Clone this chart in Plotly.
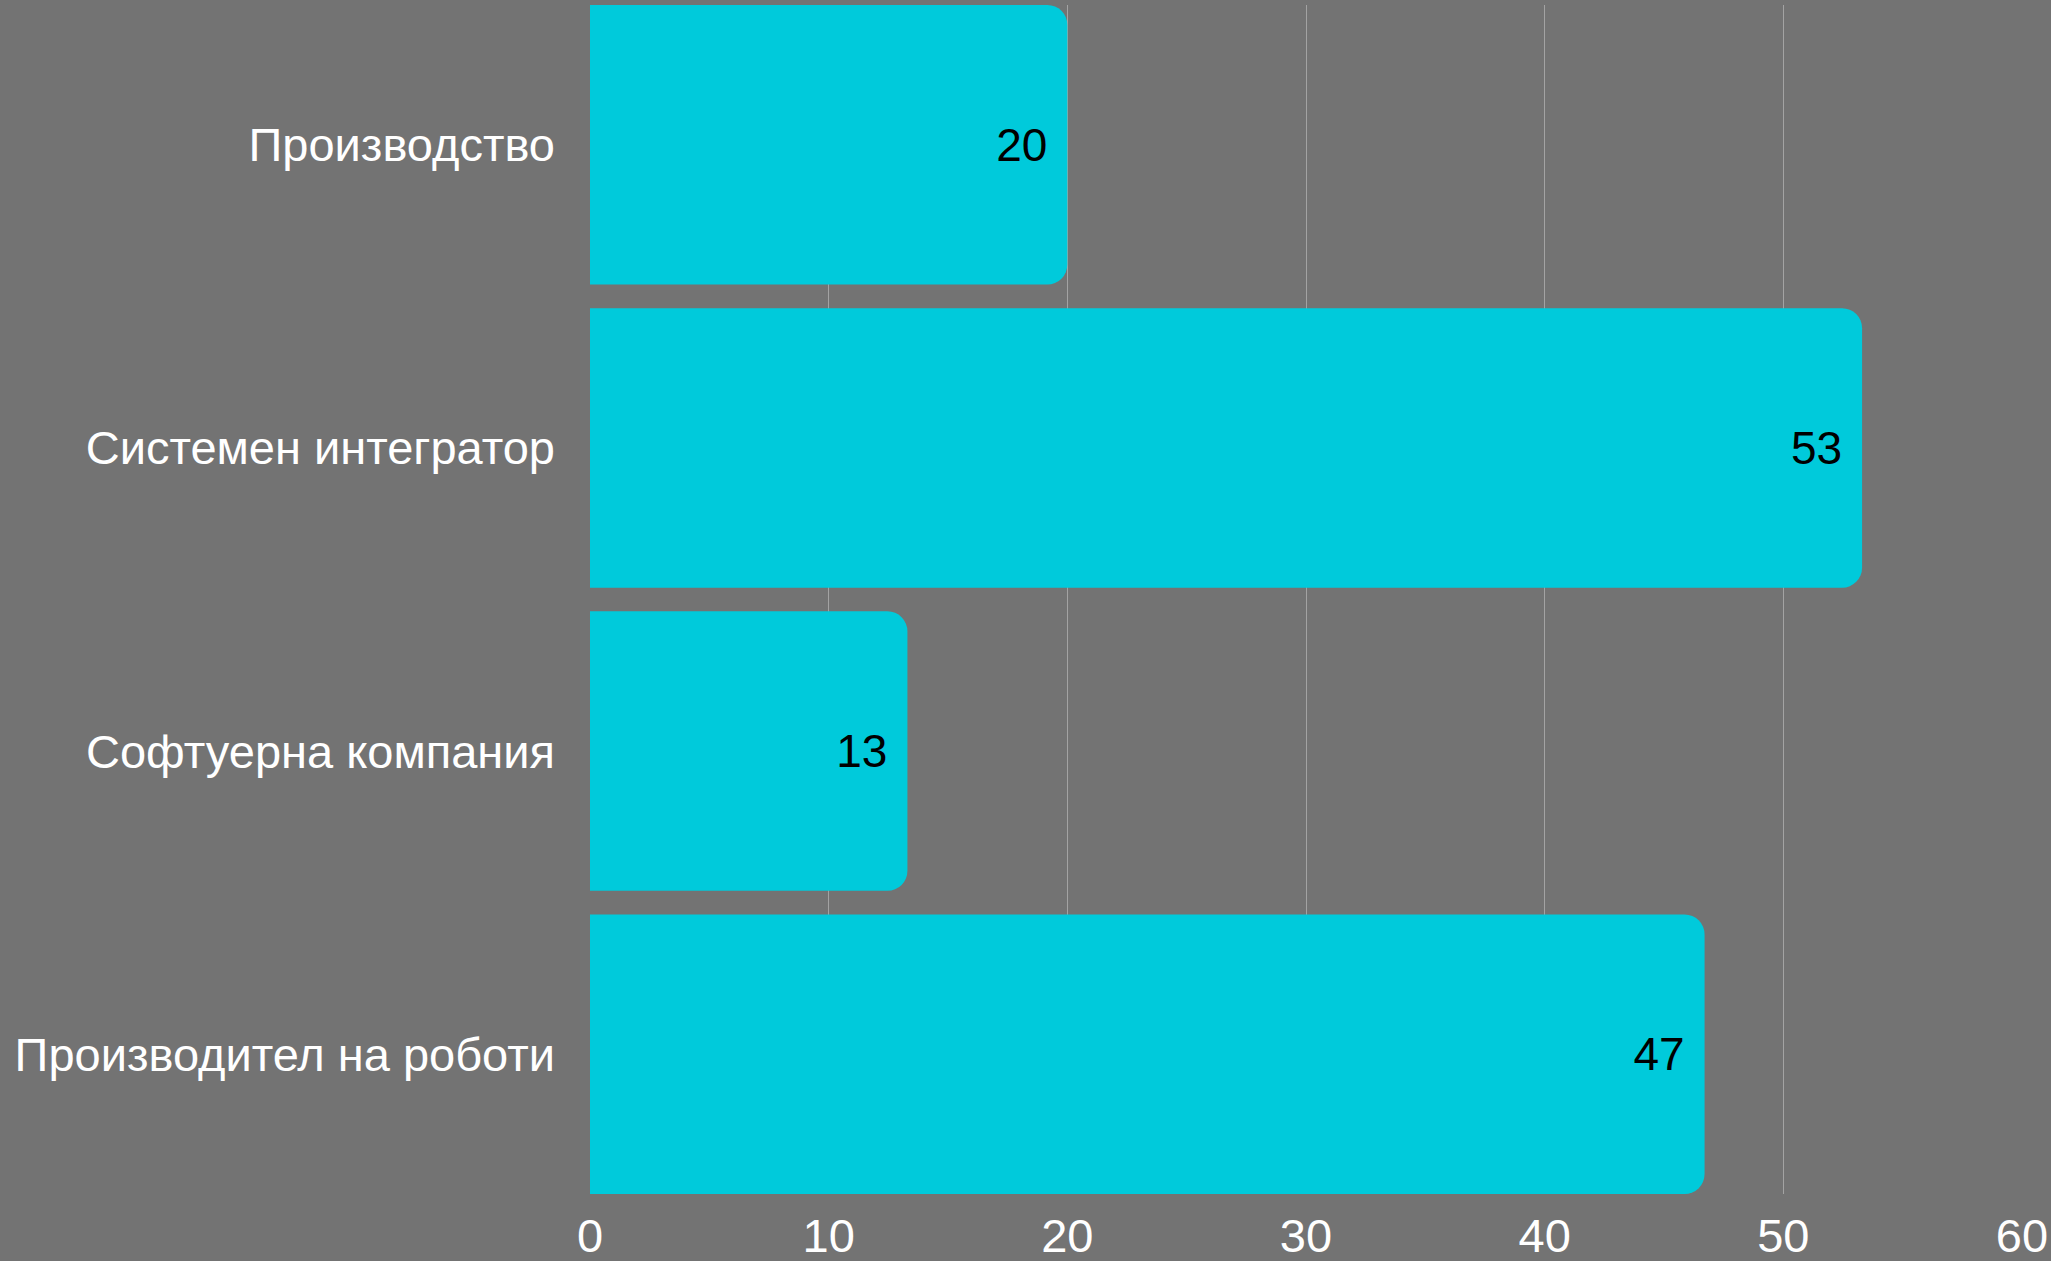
import plotly.graph_objects as go

categories = ["Производство", "Системен интегратор", "Софтуерна компания", "Производител на роботи"]
values = [20.0, 53.3, 13.3, 46.7]
tick_vals = [0, 10, 20, 30, 40, 50, 60]
tick_text = ["0", "10", "20", "30", "40", "50", "60"]

BG = "#737373"
BAR = "#00CADB"
FONT = "Liberation Sans, Arial, sans-serif"

fig = go.Figure(go.Bar(
    y=categories,
    x=values,
    orientation="h",
    marker=dict(color=BAR, line=dict(width=0), cornerradius=20),
    texttemplate="%{x:.0f}",
    textposition="inside",
    insidetextanchor="end",
    textfont=dict(color="black", size=46, family=FONT),
    textangle=0,
    cliponaxis=False,
    hoverinfo="skip",
))

fig.update_layout(
    width=2051,
    height=1261,
    paper_bgcolor=BG,
    plot_bgcolor=BG,
    margin=dict(l=590, r=29, t=5, b=67, autoexpand=False),
    bargap=0.078,
    showlegend=False,
    font=dict(family=FONT, color="white"),
)

fig.update_xaxes(
    range=[0, 60],
    tickvals=tick_vals,
    ticktext=tick_text,
    showgrid=True,
    gridcolor="#A3A3A3",
    gridwidth=1,
    zeroline=False,
    showline=False,
    ticks="",
    tickfont=dict(size=47, color="white", family=FONT),
    ticklabelstandoff=10,
    automargin=False,
    fixedrange=True,
)

fig.update_yaxes(
    categoryorder="array",
    categoryarray=categories,
    range=[3.461, -0.461],
    showgrid=False,
    zeroline=False,
    showline=False,
    ticks="",
    tickfont=dict(size=47, color="white", family=FONT),
    ticklabelstandoff=34,
    automargin=False,
    fixedrange=True,
)

fig.write_html("out.html", config={"displayModeBar": False},
               post_script="document.body.style.margin='0';")
